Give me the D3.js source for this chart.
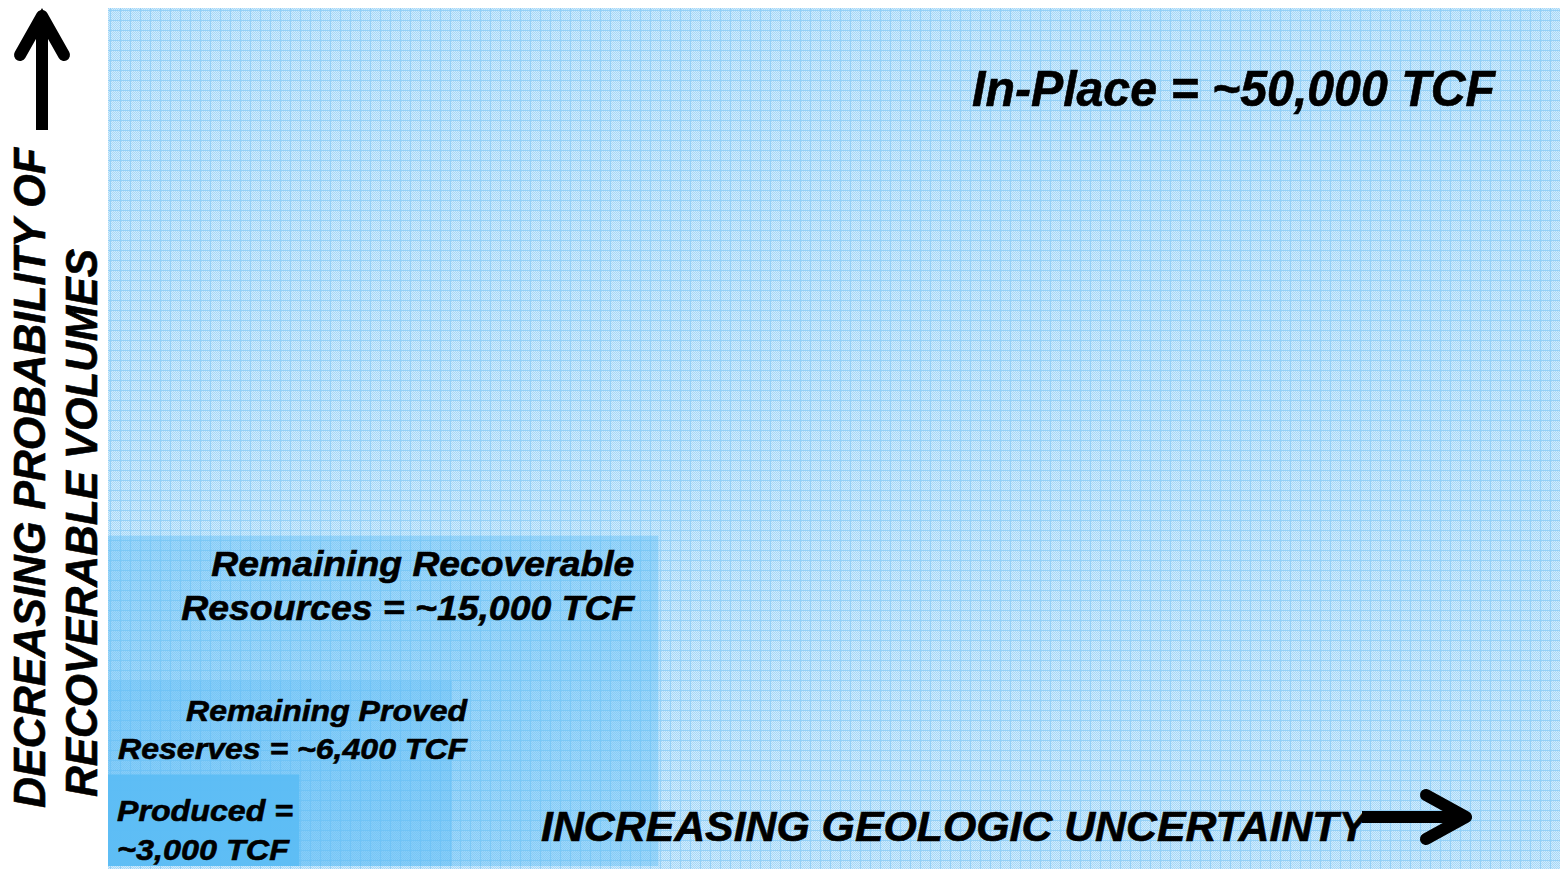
<!DOCTYPE html>
<html>
<head>
<meta charset="utf-8">
<script src="https://cdn.jsdelivr.net/npm/d3@7"></script>
<style>
  html, body { margin: 0; padding: 0; background: #ffffff; }
  svg { display: block; }
  text { font-family: "Liberation Sans", Arial, sans-serif; font-weight: bold; font-style: italic; fill: #000; stroke: #000; stroke-width: 0.6px; }
</style>
</head>
<body>
<div id="wrapper"></div>
<script>
// resource categories, nested from largest to smallest (share of frame, %)
const categories = ["In-Place", "Remaining Recoverable Resources", "Remaining Proved Reserves", "Produced"]
const boxWidths = [100, 37.9, 23.7, 13.2]
const boxHeights = [100, 38.5, 21.6, 10.7]
const volumes = ["~50,000 TCF", "~15,000 TCF", "~6,400 TCF", "~3,000 TCF"]
const labelLines = [
  ["In-Place = ~50,000 TCF"],
  ["Remaining Recoverable", "Resources = ~15,000 TCF"],
  ["Remaining Proved", "Reserves = ~6,400 TCF"],
  ["Produced =", "~3,000 TCF"]
]
const xAxisLabel = "INCREASING GEOLOGIC UNCERTAINTY"
const yAxisLines = ["DECREASING PROBABILITY OF", "RECOVERABLE VOLUMES"]

function draw() {
  const dimensions = {
    width: 1560,
    height: 869,
    margin: { top: 8, right: 0, bottom: 3, left: 108 }
  }
  dimensions.boundedWidth = dimensions.width - dimensions.margin.left - dimensions.margin.right
  dimensions.boundedHeight = dimensions.height - dimensions.margin.top - dimensions.margin.bottom

  const svg = d3.select("#wrapper").append("svg")
      .attr("width", dimensions.width)
      .attr("height", dimensions.height)

  // scales: x = geologic uncertainty, y = probability (0 at bottom)
  const xScale = d3.scaleLinear()
    .domain([0, 100])
    .range([dimensions.margin.left, dimensions.margin.left + dimensions.boundedWidth])
  const yScale = d3.scaleLinear()
    .domain([0, 100])
    .range([dimensions.margin.top + dimensions.boundedHeight, dimensions.margin.top])

  // graph paper pattern: dithered fill + grid every 10px
  const defs = svg.append("defs")
  const dither = defs.append("pattern")
      .attr("id", "dither")
      .attr("patternUnits", "userSpaceOnUse")
      .attr("width", 2).attr("height", 2)
  dither.append("rect").attr("width", 2).attr("height", 2).attr("fill", "#d0ebfc")
  dither.append("rect").attr("width", 1).attr("height", 1).attr("fill", "#a6d8f8")
  dither.append("rect").attr("x", 1).attr("y", 1).attr("width", 1).attr("height", 1).attr("fill", "#a6d8f8")

  const grid = defs.append("pattern")
      .attr("id", "grid")
      .attr("patternUnits", "userSpaceOnUse")
      .attr("width", 10).attr("height", 10)
  grid.append("rect").attr("width", 10).attr("height", 10).attr("fill", "url(#dither)")
  grid.append("rect").attr("x", 0).attr("y", 0).attr("width", 1).attr("height", 10).attr("fill", "#93d0f7")
  grid.append("rect").attr("x", 0).attr("y", 0).attr("width", 10).attr("height", 1).attr("fill", "#93d0f7")

  const boxes = categories.map((c, i) => ({
    name: c, w: boxWidths[i], h: boxHeights[i], lines: labelLines[i], i
  }))
  const overlayOpacity = [0, 0.42, 0.62, 0.97]
  // outer frame runs to the page bottom, inner boxes stop at the baseline
  const bottomOf = d => d.i === 0 ? dimensions.height : yScale(0)

  const boxGroups = svg.selectAll(".box")
    .data(boxes)
    .join("g")
      .attr("class", "box")

  boxGroups.append("rect")
      .attr("x", xScale(0))
      .attr("y", d => yScale(d.h))
      .attr("width", d => xScale(d.w) - xScale(0))
      .attr("height", d => bottomOf(d) - yScale(d.h))
      .attr("fill", "url(#grid)")

  boxGroups.append("rect")
      .attr("x", xScale(0))
      .attr("y", d => yScale(d.h))
      .attr("width", d => xScale(d.w) - xScale(0))
      .attr("height", d => yScale(0) - yScale(d.h))
      .attr("fill", "#5bbcf5")
      .attr("opacity", d => overlayOpacity[d.i])

  // box labels
  const labelStyle = [
    { size: 50, anchor: "end", dx: -65, top: 106, gap: 0, len: [523] },
    { size: 35, anchor: "end", dx: -24, top: 576, gap: 44, len: [423, 453] },
    { size: 29.5, anchor: "end", dx: 15, top: 721, gap: 38, len: [281, 349] },
    { size: 30, anchor: "start", dx: 9, top: 821, gap: 39, len: [176, 172] }
  ]
  boxGroups.each(function(d) {
    const s = labelStyle[d.i]
    const x = s.anchor === "end" ? xScale(d.w) + s.dx : xScale(0) + s.dx
    d3.select(this).selectAll("text")
      .data(d.lines)
      .join("text")
        .attr("x", x)
        .attr("y", (l, j) => s.top + j * s.gap)
        .attr("text-anchor", s.anchor)
        .attr("font-size", s.size)
        .attr("textLength", (l, j) => s.len[j])
        .attr("lengthAdjust", "spacingAndGlyphs")
        .text(l => l)
  })

  // x axis label and arrow
  svg.append("text")
      .attr("x", 541)
      .attr("y", 841)
      .attr("font-size", 42)
      .attr("textLength", 826)
      .attr("lengthAdjust", "spacingAndGlyphs")
      .text(xAxisLabel)

  const arrowStyle = sel => sel
      .attr("fill", "none")
      .attr("stroke", "#000")
      .attr("stroke-width", 12)
      .attr("stroke-linejoin", "miter")

  svg.append("path")
      .call(arrowStyle)
      .attr("d", "M1362,817 L1462,817")
  svg.append("path")
      .call(arrowStyle)
      .attr("stroke-linecap", "round")
      .attr("stroke-linejoin", "round")
      .attr("d", "M1426,795 L1466,817 L1426,839")
  svg.append("path")
      .attr("fill", "#000")
      .attr("d", "M1472,817 L1452,805 L1452,829 Z")

  // y axis label and arrow
  const yLabel = svg.append("g")
  yLabel.selectAll("text")
    .data(yAxisLines)
    .join("text")
      .attr("transform", (d, i) => `translate(${i === 0 ? 45 : 97},${i === 0 ? 808 : 797}) rotate(-90)`)
      .attr("font-size", 44)
      .attr("textLength", (d, i) => i === 0 ? 660 : 548)
      .attr("lengthAdjust", "spacingAndGlyphs")
      .text(d => d)

  svg.append("path")
      .call(arrowStyle)
      .attr("d", "M42,130 L42,20")
  svg.append("path")
      .call(arrowStyle)
      .attr("stroke-linecap", "round")
      .attr("stroke-linejoin", "round")
      .attr("d", "M20,55 L42,16 L64,55")
  svg.append("path")
      .attr("fill", "#000")
      .attr("d", "M42,8 L30,30 L54,30 Z")
}
draw()
</script>
</body>
</html>
